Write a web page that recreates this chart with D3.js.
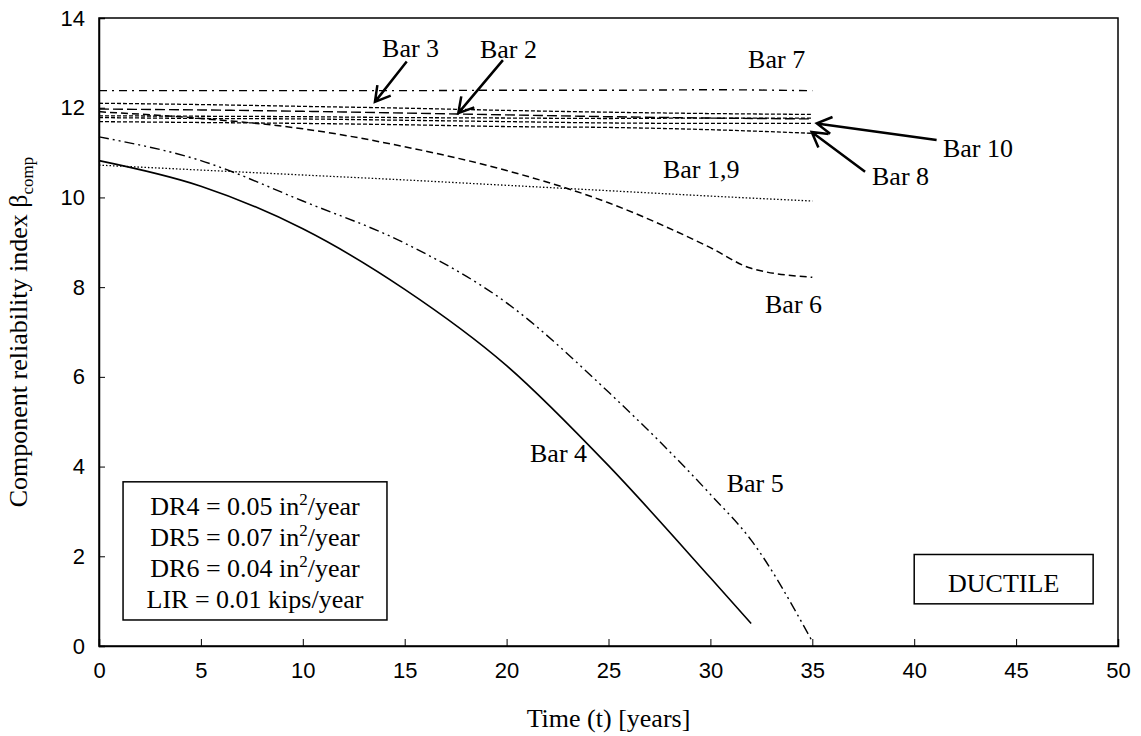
<!DOCTYPE html>
<html>
<head>
<script src="https://cdn.jsdelivr.net/npm/d3@7"></script>
<style>
  body { margin: 0; background: #fff; }
  .tick text { font-family: "Liberation Sans", Arial, sans-serif; font-size: 22px; fill: #000; }
  .serif { font-family: "Liberation Serif", "Times New Roman", serif; fill: #000; }
</style>
</head>
<body>
<div id="chart"></div>
<script>
  // years on the x axis
  var tAll = [0, 5, 10, 15, 20, 25, 30, 35];
  var tBend = [0, 5, 10, 15, 20, 25, 30, 32, 35];
  var tBar4 = [0, 5, 10, 15, 20, 25, 30, 32];

  // beta values
  var bar19 = [10.72, 10.61, 10.50, 10.39, 10.27, 10.15, 10.03, 9.92];
  var bar7 = [12.38, 12.38, 12.38, 12.38, 12.39, 12.39, 12.40, 12.38];
  var bar3 = [12.10, 12.07, 12.03, 11.99, 11.94, 11.90, 11.87, 11.85];
  var bar2 = [11.97, 11.95, 11.92, 11.88, 11.84, 11.80, 11.77, 11.75];
  var barS = [11.82, 11.81, 11.80, 11.78, 11.77, 11.76, 11.77, 11.77];
  var bar10 = [11.78, 11.76, 11.75, 11.72, 11.69, 11.66, 11.65, 11.65];
  var bar8 = [11.69, 11.67, 11.65, 11.62, 11.58, 11.56, 11.51, 11.43];
  var bar6 = [11.91, 11.76, 11.53, 11.13, 10.60, 9.88, 8.88, 8.42, 8.22];
  var bar5 = [11.35, 10.82, 9.92, 8.98, 7.65, 5.66, 3.38, 2.36, 0.10];
  var bar4 = [10.82, 10.25, 9.30, 7.95, 6.25, 4.02, 1.52, 0.50];

  var xTicks = [0, 5, 10, 15, 20, 25, 30, 35, 40, 45, 50];
  var yTicks = [0, 2, 4, 6, 8, 10, 12, 14];

  var legendLines = ["DR4 = 0.05 in|2|/year", "DR5 = 0.07 in|2|/year", "DR6 = 0.04 in|2|/year", "LIR = 0.01 kips/year"];

  // label text, position in data units (t, beta)
  var labels = [
    {text: "Bar 3", t: 13.89, b: 13.13},
    {text: "Bar 2", t: 18.69, b: 13.10},
    {text: "Bar 7", t: 31.85, b: 12.88},
    {text: "Bar 1,9", t: 27.67, b: 10.43},
    {text: "Bar 10", t: 41.41, b: 10.90},
    {text: "Bar 8", t: 37.93, b: 10.28},
    {text: "Bar 6", t: 32.68, b: 7.42},
    {text: "Bar 5", t: 30.80, b: 3.44},
    {text: "Bar 4", t: 21.15, b: 4.10}
  ];
  var arrows = [
    {t1: 15.10, b1: 13.03, t2: 13.54, b2: 12.13},
    {t1: 19.82, b1: 13.06, t2: 17.63, b2: 11.88},
    {t1: 41.10, b1: 11.28, t2: 35.22, b2: 11.65},
    {t1: 37.59, b1: 10.57, t2: 34.97, b2: 11.46}
  ];

  var series = [
    {t: tAll, v: bar19, dash: "1.5,2", w: 1.3},
    {t: tAll, v: bar7, dash: "8,5,2,5", w: 1.4},
    {t: tAll, v: bar3, dash: "4,2", w: 1.3},
    {t: tAll, v: bar2, dash: "10,4", w: 1.4},
    {t: tAll, v: barS, dash: "4,2", w: 1.3},
    {t: tAll, v: bar10, dash: "4,2", w: 1.3},
    {t: tAll, v: bar8, dash: "4,2", w: 1.3},
    {t: tBend, v: bar6, dash: "7,4", w: 1.5},
    {t: tBend, v: bar5, dash: "10,4,2,4,2,4", w: 1.4},
    {t: tBar4, v: bar4, dash: null, w: 1.6}
  ];

  var margin = {top: 18, right: 23, bottom: 90, left: 99},
      width = 1141 - margin.left - margin.right,
      height = 736 - margin.top - margin.bottom;

  var x = d3.scaleLinear().domain([0, 50]).range([0, width]);
  var y = d3.scaleLinear().domain([0, 14]).range([height, 0]);

  var svg = d3.select("#chart").append("svg")
      .attr("width", 1141).attr("height", 736)
      .append("g").attr("transform", "translate(" + margin.left + "," + margin.top + ")");

  // frame
  svg.append("rect").attr("x", 0).attr("y", 0).attr("width", width).attr("height", height)
      .attr("fill", "none").attr("stroke", "#000").attr("stroke-width", 1.5);

  // axes, ticks pointing inward
  var gx = svg.append("g").attr("transform", "translate(0," + height + ")")
      .call(d3.axisBottom(x).tickValues(xTicks).tickSize(-7).tickPadding(16));
  var gy = svg.append("g")
      .call(d3.axisLeft(y).tickValues(yTicks).tickSize(-6).tickPadding(14));
  [gx, gy].forEach(function (g) {
    g.select(".domain").attr("stroke-width", 1.5);
    g.selectAll(".tick line").attr("stroke-width", 1);
  });
  gx.selectAll(".tick text").attr("dy", "0.71em");

  // lines
  var line = d3.line().curve(d3.curveMonotoneX);
  series.forEach(function (s) {
    var pts = s.t.map(function (t, i) { return [x(t), y(s.v[i])]; });
    svg.append("path").attr("d", line(pts))
        .attr("fill", "none").attr("stroke", "#000")
        .attr("stroke-width", s.w)
        .attr("stroke-dasharray", s.dash);
  });

  // arrows
  arrows.forEach(function (a) {
    var x1 = x(a.t1), y1 = y(a.b1), x2 = x(a.t2), y2 = y(a.b2);
    var ang = Math.atan2(y2 - y1, x2 - x1), L = 17, sp = Math.PI / 6;
    var p = "M" + x1 + "," + y1 + "L" + x2 + "," + y2 +
        "M" + (x2 - L * Math.cos(ang - sp)) + "," + (y2 - L * Math.sin(ang - sp)) +
        "L" + x2 + "," + y2 +
        "L" + (x2 - L * Math.cos(ang + sp)) + "," + (y2 - L * Math.sin(ang + sp));
    svg.append("path").attr("d", p).attr("fill", "none").attr("stroke", "#000")
        .attr("stroke-width", 2.5).attr("stroke-linejoin", "miter");
  });

  // labels
  svg.selectAll(".lbl").data(labels).enter().append("text")
      .attr("class", "serif lbl")
      .attr("x", function (d) { return x(d.t); })
      .attr("y", function (d) { return y(d.b); })
      .style("font-size", "26px")
      .text(function (d) { return d.text; });

  // legend box
  svg.append("rect").attr("x", x(1.18)).attr("y", y(3.66))
      .attr("width", x(14.13) - x(1.18)).attr("height", y(0.58) - y(3.66))
      .attr("fill", "#fff").attr("stroke", "#000").attr("stroke-width", 1.5);
  legendLines.forEach(function (l, i) {
    var parts = l.split("|");
    var tx = svg.append("text").attr("class", "serif")
        .attr("x", (x(1.18) + x(14.13)) / 2).attr("y", y(3.66) + 33 + i * 31)
        .attr("text-anchor", "middle").style("font-size", "26px");
    tx.append("tspan").text(parts[0]);
    if (parts.length > 1) {
      tx.append("tspan").attr("dy", -10).style("font-size", "17px").text(parts[1]);
      tx.append("tspan").attr("dy", 10).text(parts[2]);
    }
  });

  // ductile box
  svg.append("rect").attr("x", x(40.0)).attr("y", y(2.04))
      .attr("width", x(48.78) - x(40.0)).attr("height", y(0.94) - y(2.04))
      .attr("fill", "#fff").attr("stroke", "#000").attr("stroke-width", 1.5);
  svg.append("text").attr("class", "serif")
      .attr("x", (x(40.0) + x(48.78)) / 2).attr("y", y(1.21))
      .attr("text-anchor", "middle").style("font-size", "26px").text("DUCTILE");

  // axis titles
  svg.append("text").attr("class", "serif")
      .attr("x", width / 2).attr("y", height + 81)
      .attr("text-anchor", "middle").style("font-size", "26px").text("Time (t) [years]");
  var yt = svg.append("text").attr("class", "serif")
      .attr("transform", "translate(-72," + (height / 2) + ") rotate(-90)")
      .attr("text-anchor", "middle").style("font-size", "26px");
  yt.append("tspan").text("Component reliability index \u03b2");
  yt.append("tspan").attr("dy", 6).style("font-size", "17px").text("comp");
</script>
</body>
</html>
